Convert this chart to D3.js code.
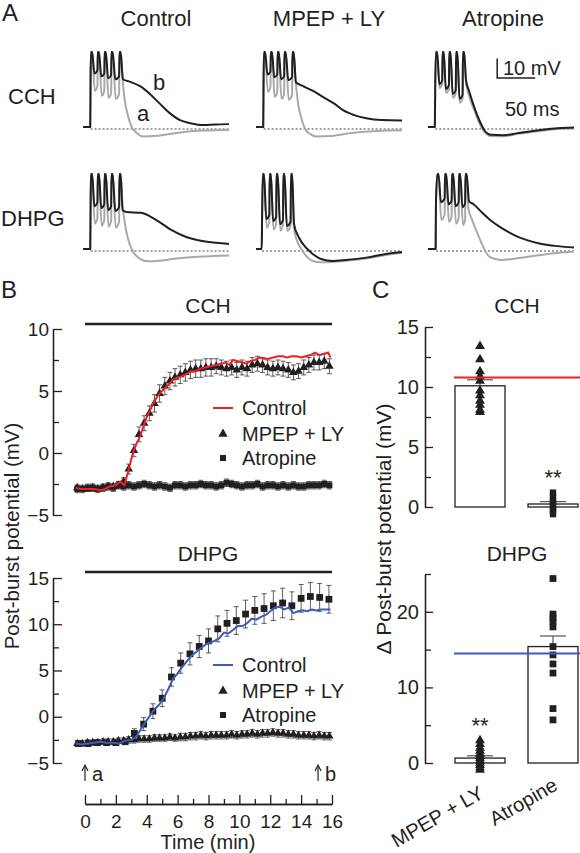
<!DOCTYPE html>
<html><head><meta charset="utf-8">
<script src="https://cdn.jsdelivr.net/npm/d3@7"></script>
<style>
body{margin:0;background:#fff}
svg{display:block}
text{font-family:"Liberation Sans",Arial,sans-serif;fill:#231f20}
</style>
</head><body>
<svg id="fig" width="580" height="853"></svg>
<script>
// ---------------- Panel A: traces [ms, mV relative to baseline] ----------------
const colTitles = ["Control", "MPEP + LY", "Atropine"];
const rowLabels = ["CCH", "DHPG"];
// grey = before drug (a), black = after drug (b)
const cchCtrlGrey = [[0,1],[9.5,1],[10,27],[10.5,39.5],[12,39.5],[15.5,19.5],[19,22],[19.5,39.5],[21,39.5],[24.5,17],[28,19.5],[28.5,39.5],[30,39.5],[33.5,16],[37,18.5],[37.5,39.5],[39,39.5],[43,15.5],[47.5,18],[48,39.5],[49.5,39.5],[52,26],[55,14.5],[59,7],[64,1],[70.6,-2],[79,-3.8],[97,-3.5],[123,-2],[158,-0.8],[192,-0.5]];
const cchCtrlBlack = [[0,1],[9.5,1],[10,27],[10.5,39.5],[12,39.5],[15,28.5],[19,30],[19.5,39.5],[21,39.5],[24,27],[28,28.5],[28.5,39.5],[30,39.5],[33,26],[37,27.5],[37.5,39.5],[39,39.5],[42.5,25.5],[47.5,27],[48,39.5],[49.5,39.5],[52.5,25.5],[62,24.2],[75,22],[88,18],[101,13],[114.5,8],[127.6,4.5],[141,3],[158,2],[174,2.3],[192,2.5]];
const cchMpepGrey = [[0,1],[9.5,1],[10,27],[10.5,39.5],[12,39.5],[15.5,19],[19,21.5],[19.5,39.5],[21,39.5],[24.5,16.5],[28,19],[28.5,39.5],[30,39.5],[33.5,15.5],[37,18],[37.5,39.5],[39,39.5],[43,15],[47.5,17.5],[48,39.5],[49.5,39.5],[52,25.5],[55,14],[59,6.5],[64,0.5],[71,-2.5],[80,-3.8],[97,-3.6],[125,-2.1],[160,-1],[192,-0.7]];
const cchMpepBlack = [[0,1],[9.5,1],[10,27],[10.5,39.5],[12,39.5],[15,28],[19,29.5],[19.5,39.5],[21,39.5],[24,26.5],[28,28],[28.5,39.5],[30,39.5],[33,25.5],[37,27],[37.5,39.5],[39,39.5],[42.5,25],[47.5,26.5],[48,39.5],[49.5,39.5],[52.5,24],[62,22],[75,19.5],[90,16],[103,13],[115,9.5],[130,7],[145,5.5],[165,4.6],[192,4.4]];
const cchAtrGrey = [[0,1],[9,1],[9.5,21],[10.5,39.5],[12,39.5],[15,21],[18.7,23],[19.2,39.5],[20.7,39.5],[23.5,18.5],[27.5,20.5],[28,39.5],[29.5,39.5],[32.5,16],[36.5,18],[37,39.5],[38.5,39.5],[41.5,13.5],[45.5,15.5],[46,39.5],[47.5,39.5],[50,24],[54,17],[61,9.5],[67.5,3],[74,-1.5],[83,-3.6],[100,-3.7],[119,-2.5],[148,-1],[170,0],[192,0.4]];
const cchAtrBlack = [[0,1],[9,1],[9.5,22],[10.5,39.5],[12,39.5],[15,23],[18.7,25],[19.2,39.5],[20.7,39.5],[23.5,20.5],[27.5,22.5],[28,39.5],[29.5,39.5],[32.5,18],[36.5,20],[37,39.5],[38.5,39.5],[41.5,15.5],[45.5,17.5],[46,39.5],[47.5,39.5],[50,25],[54,19.5],[61,11],[67.5,4.5],[74,-0.5],[83,-3],[100,-3.2],[119,-2],[148,-0.5],[170,0.4],[192,0.8]];
const dhpgCtrlGrey = [[0,1],[9.5,1],[10,23],[10.5,39.5],[12,39.5],[15.5,14],[19,17],[19.5,39.5],[21,39.5],[24.5,13],[28,16],[28.5,39.5],[30,39.5],[33.5,12.5],[37,15.5],[37.5,39.5],[39,39.5],[43,12],[47.5,15],[48,39.5],[49.5,39.5],[52,24],[56,12],[61,4],[67,-1],[75,-4],[86,-5.3],[100,-5],[120,-4],[150,-3],[192,-2.3]];
const dhpgCtrlBlack = [[0,1],[9.5,1],[10,23],[10.5,39.5],[12,39.5],[15,23],[19,25],[19.5,39.5],[21,39.5],[24,22],[28,24],[28.5,39.5],[30,39.5],[33,21],[37,23],[37.5,39.5],[39,39.5],[42.5,20.5],[47.5,22.5],[48,39.5],[49.5,39.5],[52,21],[57,20],[76,19.6],[96,16],[116,10.8],[135,7.3],[155,5.3],[175,4.2],[192,3.6]];
const dhpgMpepGrey = [[0,1],[7.5,1],[8,16.5],[9,39.5],[10.5,39.5],[14,12],[17.5,15],[18,39.5],[19.5,39.5],[23,11],[26.5,14],[27,39.5],[28.5,39.5],[32,10.5],[35.5,13.5],[36,39.5],[37.5,39.5],[41,10.3],[45.5,13],[46,39.5],[47.5,39.5],[50,12],[52.6,6.8],[61.4,0],[74.6,-5.1],[85,-5.8],[101,-5.6],[118,-5],[145,-3.8],[171,-2],[192,-1]];
const dhpgMpepBlack = [[0,1],[7.5,1],[8,16.5],[9,39.5],[10.5,39.5],[13.5,16.4],[17.5,18.5],[18,39.5],[19.5,39.5],[22.5,15.4],[26.5,17.5],[27,39.5],[28.5,39.5],[31.5,13.8],[35.5,16],[36,39.5],[37.5,39.5],[40.5,12.8],[45.5,15],[46,39.5],[47.5,39.5],[50,13.8],[56.6,6.8],[65.8,1.7],[74.6,-1.5],[85.5,-4.1],[101,-5.1],[118,-4.6],[145,-3.4],[171,-1.5],[192,-0.5]];
const dhpgAtrGrey = [[0,1],[10,1],[10.5,25],[12.3,39.5],[13.8,39.5],[17.5,15.9],[21.9,19],[22.4,39.5],[23.9,39.5],[27.5,15],[31.1,18],[31.6,39.5],[33.1,39.5],[36.7,14],[40.3,17],[40.8,39.5],[42.3,39.5],[46,13.3],[48.8,16],[49.3,39.5],[50.8,39.5],[53,22],[58,16],[64,10],[71,3.5],[81,-3],[96,-4.6],[120,-3.6],[145,-2.2],[170,-1],[192,-0.3]];
const dhpgAtrBlack = [[0,1],[10,1],[10.5,25],[12.3,39.5],[13.8,39.5],[17,25],[21.9,27],[22.4,39.5],[23.9,39.5],[27,24],[31.1,26],[31.6,39.5],[33.1,39.5],[36.2,23],[40.3,25],[40.8,39.5],[42.3,39.5],[45.4,22.5],[48.8,24.5],[49.3,39.5],[50.8,39.5],[54,25.5],[60,24],[71,19.7],[83,15.5],[96,12],[120,7],[145,4],[170,2.5],[192,1.8]];

// ---------------- Panel B: time courses ----------------
const cchCtrlT = [-0.6,-0.3,0,0.3,0.6,1.0,1.3,1.6,2.0,2.3,2.55,2.8,3.1,3.35,3.56,3.8,4.0,4.2,4.42,4.7,5.07,5.4,5.7,6.0,6.3,6.6,6.9,7.2,7.45,7.8,8.1,8.5,8.8,9.1,9.35,9.6,9.9,10.2,10.45,10.7,11.0,11.34,11.6,11.9,12.2,12.5,12.8,13.1,13.4,13.7,14.0,14.3,14.6,14.9,15.2,15.5,15.75,15.9];
const cchCtrlV = [-2.8,-2.9,-2.9,-2.9,-2.9,-3.0,-2.9,-2.7,-2.6,-2.3,-2.6,-1.5,0,0.8,1.3,2.2,2.9,3.4,4.0,4.6,5.1,5.5,5.9,6.1,6.2,6.4,6.6,6.6,6.8,6.9,7.0,7.1,7.2,7.3,7.1,7.5,7.4,7.3,7.2,7.4,7.5,7.7,7.6,7.6,7.7,7.8,7.8,7.7,7.8,7.8,7.7,7.8,7.9,8.1,7.9,8.0,8.1,7.7];
const symT = [-0.5,-0.17,0.17,0.5,0.83,1.17,1.5,1.83,2.17,2.5,2.83,3.17,3.5,3.83,4.17,4.5,4.83,5.17,5.5,5.83,6.17,6.5,6.83,7.17,7.5,7.83,8.17,8.5,8.83,9.17,9.5,9.83,10.17,10.5,10.83,11.17,11.5,11.83,12.17,12.5,12.83,13.17,13.5,13.83,14.17,14.5,14.83,15.17,15.5,15.83];
const cchMpepV = [-2.8,-2.9,-2.9,-2.8,-2.9,-2.8,-2.7,-2.7,-2.6,-2.3,-1.3,0.2,1.5,2.4,3.2,4.0,4.8,5.4,5.8,6.1,6.3,6.5,6.7,6.8,6.8,6.9,6.9,7.0,6.9,6.8,6.9,6.7,6.9,6.8,7.1,7.2,7.1,6.9,6.8,6.9,6.8,6.7,6.5,6.6,6.9,7.1,7.3,7.3,7.4,7.0];
const cchMpepE = [0.2,0.2,0.2,0.2,0.2,0.2,0.2,0.2,0.25,0.3,0.4,0.5,0.6,0.6,0.6,0.7,0.7,0.7,0.7,0.7,0.7,0.7,0.7,0.7,0.7,0.7,0.7,0.6,0.6,0.6,0.6,0.6,0.6,0.6,0.6,0.6,0.6,0.6,0.6,0.6,0.6,0.6,0.6,0.6,0.6,0.6,0.6,0.6,0.6,0.6];
const cchAtrV = [-2.9,-2.9,-2.8,-2.8,-2.9,-2.8,-2.7,-2.8,-2.6,-2.7,-2.6,-2.7,-2.6,-2.5,-2.6,-2.7,-2.6,-2.7,-2.8,-2.6,-2.6,-2.7,-2.6,-2.6,-2.5,-2.6,-2.6,-2.7,-2.6,-2.4,-2.5,-2.6,-2.7,-2.6,-2.6,-2.5,-2.7,-2.6,-2.6,-2.7,-2.6,-2.7,-2.6,-2.7,-2.7,-2.6,-2.6,-2.6,-2.5,-2.6];
const cchAtrE = [0.3,0.3,0.3,0.3,0.3,0.3,0.3,0.3,0.3,0.3,0.3,0.3,0.3,0.3,0.3,0.3,0.3,0.3,0.3,0.3,0.3,0.3,0.3,0.3,0.3,0.3,0.3,0.3,0.3,0.3,0.3,0.3,0.3,0.3,0.3,0.3,0.3,0.3,0.3,0.3,0.3,0.3,0.3,0.3,0.3,0.3,0.3,0.3,0.3,0.3];
const dhpgCtrlT = [-0.6,-0.2,0.2,0.6,1.0,1.4,1.8,2.2,2.6,3.0,3.3,3.6,3.9,4.2,4.5,4.8,5.1,5.4,5.7,6.0,6.3,6.6,6.9,7.2,7.5,7.8,8.1,8.4,8.7,9.0,9.3,9.6,9.9,10.2,10.5,10.8,11.1,11.4,11.7,12.0,12.3,12.6,12.9,13.2,13.5,13.8,14.1,14.4,14.7,15.0,15.3,15.6,15.9];
const dhpgCtrlV = [-2.9,-3.0,-2.9,-2.8,-2.7,-2.8,-2.8,-2.9,-2.6,-2.5,-2.2,-1.4,-0.6,0.1,0.8,1.3,2.0,3.0,4.1,4.7,5.4,6.0,6.6,7.0,7.4,7.8,8.0,8.2,8.5,9.1,9.0,9.4,9.8,9.8,10.1,10.6,10.5,10.8,11.0,11.4,11.8,11.9,11.6,11.8,11.2,11.4,11.5,11.4,11.6,11.5,11.6,11.6,11.6];
const dhpgMpepV = [-2.9,-2.9,-2.8,-2.8,-2.8,-2.7,-2.7,-2.7,-2.6,-2.6,-2.5,-2.5,-2.4,-2.4,-2.4,-2.3,-2.3,-2.3,-2.2,-2.3,-2.2,-2.2,-2.1,-2.1,-2.0,-2.1,-2.0,-2.0,-2.0,-2.0,-1.9,-2.0,-1.9,-1.9,-1.8,-1.9,-1.8,-1.8,-1.7,-1.8,-1.8,-1.9,-1.9,-2.0,-2.0,-2.0,-2.1,-2.0,-2.1,-2.1];
const dhpgMpepE = [0.3,0.3,0.3,0.3,0.3,0.3,0.3,0.3,0.3,0.3,0.35,0.35,0.35,0.35,0.35,0.35,0.35,0.35,0.35,0.35,0.4,0.4,0.4,0.4,0.4,0.4,0.4,0.4,0.4,0.4,0.4,0.4,0.4,0.4,0.4,0.4,0.4,0.4,0.4,0.4,0.4,0.4,0.4,0.4,0.4,0.4,0.4,0.4,0.4,0.4];
const dhpgAtrT = [-0.4,0.2,0.8,1.4,2.0,2.6,3.2,3.8,4.4,5.0,5.6,6.2,6.8,7.4,8.0,8.6,9.2,9.8,10.4,11.0,11.6,12.2,12.8,13.4,14.0,14.6,15.2,15.8];
const dhpgAtrV = [-2.9,-2.9,-2.8,-2.8,-2.8,-2.7,-1.8,-0.8,0.6,2.0,4.3,5.8,6.8,7.6,8.2,9.5,10.1,10.4,11.1,11.5,11.7,12.0,12.3,12.0,12.8,13.0,12.9,12.7];
const dhpgAtrE = [0.2,0.2,0.2,0.2,0.2,0.3,0.5,0.7,0.8,0.9,1.0,1.1,1.2,1.2,1.3,1.4,1.4,1.5,1.5,1.5,1.6,1.6,1.6,1.5,1.5,1.5,1.5,1.5];
const bTicksTop = [-5, 0, 5, 10];
const bTicksBot = [-5, 0, 5, 10, 15];
const timeTicks = [0, 2, 4, 6, 8, 10, 12, 14, 16];

// ---------------- Panel C: bar chart ----------------
const cGroups = ["MPEP + LY", "Atropine"];
const cchMeans = [10.1, 0.25];
const cchSems = [0.5, 0.2];
const dhpgMeans = [0.65, 15.4];
const dhpgSems = [0.3, 1.4];
const cchMpepPts = [13.4, 12.3, 11.3, 10.9, 10.5, 9.7, 9.3, 8.85, 8.5, 8.1, 7.9];
const cchAtrPts = [1.2, 0.9, 0.6, 0.4, 0.2, 0.0, -0.2, -0.4, -0.6];
const dhpgMpepPts = [3.0, 2.5, 2.0, 1.6, 1.2, 0.9, 0.6, 0.3, 0.0, -0.3, -0.6, -0.9];
const dhpgAtrPts = [24.4, 19.7, 19.2, 18.7, 18.0, 15.4, 14.3, 13.1, 11.9, 7.2, 5.7];
const cchControlMean = 10.8;
const dhpgControlMean = 14.5;

// =================================================================
const INK = "#231f20", GREY = "#a7a9ac", RED = "#ec2227", BLUE = "#3d5cbd";
const FONT = '"Liberation Sans",Arial,sans-serif';
const svg = d3.select("#fig");

function txt(g, x, y, s, size, anchor) {
  return g.append("text").attr("x", x).attr("y", y).attr("font-size", size)
    .attr("text-anchor", anchor || "start").text(s);
}

// ---------- Panel A ----------
const gA = svg.append("g");
txt(gA, 2, 21, "A", 24);
const colStart = [83, 256, 428];
const rowBase = [129, 251];
const titleX = [156, 329, 503];
colTitles.forEach((t, i) => txt(gA, titleX[i], 26, t, 22, "middle"));
txt(gA, 8, 104, rowLabels[0], 22);
txt(gA, 1, 226, rowLabels[1], 22);

function trScales(c, r) {
  return {
    x: d3.scaleLinear().domain([0, 192]).range([colStart[c], colStart[c] + 146]),
    y: d3.scaleLinear().domain([0, 10]).range([rowBase[r], rowBase[r] - 19.5])
  };
}
const traceSets = [
  [0, 0, cchCtrlGrey, cchCtrlBlack, 10], [0, 1, cchMpepGrey, cchMpepBlack, 10], [0, 2, cchAtrGrey, cchAtrBlack, 9.5],
  [1, 0, dhpgCtrlGrey, dhpgCtrlBlack, 10], [1, 1, dhpgMpepGrey, dhpgMpepBlack, 8], [1, 2, dhpgAtrGrey, dhpgAtrBlack, 10.5]
];
traceSets.forEach(([r, c, grey, black, t0]) => {
  const s = trScales(c, r);
  const line = d3.line().x(d => s.x(d[0])).y(d => s.y(d[1])).curve(d3.curveMonotoneX);
  gA.append("line").attr("x1", s.x(t0)).attr("x2", s.x(192)).attr("y1", s.y(0)).attr("y2", s.y(0))
    .attr("stroke", "#444").attr("stroke-width", 1).attr("stroke-dasharray", "2,2");
  gA.append("path").attr("d", line(grey)).attr("fill", "none").attr("stroke", GREY).attr("stroke-width", 2)
    .attr("stroke-linejoin", "round");
  gA.append("path").attr("d", line(black)).attr("fill", "none").attr("stroke", INK).attr("stroke-width", 2)
    .attr("stroke-linejoin", "round");
});
txt(gA, 153, 90, "b", 22);
txt(gA, 137, 121, "a", 22);
// scale bar (10 mV, 50 ms)
{
  const s = trScales(2, 0);
  const t0 = 91, v0 = 26.2;
  gA.append("path").attr("d", `M${s.x(t0)},${s.y(v0 + 10)}V${s.y(v0)}H${s.x(t0 + 50)}`)
    .attr("fill", "none").attr("stroke", INK).attr("stroke-width", 1.5);
  txt(gA, 503, 75, "10 mV", 20);
  txt(gA, 505, 116, "50 ms", 20);
}

// ---------- Panel B ----------
const gB = svg.append("g");
txt(gB, 1, 298, "B", 24);
const xB = d3.scaleLinear().domain([0, 16]).range([85, 332]);
const yT = d3.scaleLinear().domain([-5, 10]).range([515, 329]);
const yD = d3.scaleLinear().domain([-5, 15]).range([763, 578]);

function styleAxis(g, size) {
  g.attr("font-family", FONT).attr("font-size", size);
  g.selectAll("path,line").attr("stroke", INK).attr("stroke-width", 1.3);
  g.selectAll("text").attr("fill", INK);
}
function yAxisB(y, ticks) {
  const minor = [];
  for (let i = 0; i < ticks.length - 1; i++) minor.push((ticks[i] + ticks[i + 1]) / 2);
  const g1 = gB.append("g").attr("transform", "translate(53,0)")
    .call(d3.axisLeft(y).tickValues(ticks).tickSize(-9).tickSizeOuter(0).tickPadding(4).tickFormat(d3.format("d")));
  styleAxis(g1, 19);
  const g2 = gB.append("g").attr("transform", "translate(53,0)")
    .call(d3.axisLeft(y).tickValues(minor).tickSize(-6).tickSizeOuter(0).tickFormat(""));
  styleAxis(g2, 19);
}
yAxisB(yT, bTicksTop);
yAxisB(yD, bTicksBot);

// drug bars and titles
[[324, 313, "CCH"], [572, 561, "DHPG"]].forEach(([yy, ty, s]) => {
  gB.append("line").attr("x1", xB(0)).attr("x2", xB(16)).attr("y1", yy).attr("y2", yy)
    .attr("stroke", INK).attr("stroke-width", 2.5);
  txt(gB, 208, ty, s, 21, "middle");
});

function errBars(g, T, V, E, y) {
  const eg = g.append("g").attr("stroke", "#333").attr("stroke-width", 0.8);
  T.forEach((t, i) => {
    const x = xB(t), a = y(V[i] - E[i]), b = y(V[i] + E[i]);
    eg.append("line").attr("x1", x).attr("x2", x).attr("y1", a).attr("y2", b);
    eg.append("line").attr("x1", x - 2.5).attr("x2", x + 2.5).attr("y1", a).attr("y2", a);
    eg.append("line").attr("x1", x - 2.5).attr("x2", x + 2.5).attr("y1", b).attr("y2", b);
  });
}
function symbols(g, T, V, y, type, size) {
  g.append("g").selectAll("path").data(T).join("path")
    .attr("transform", (t, i) => `translate(${xB(t)},${y(V[i])})`)
    .attr("d", d3.symbol(type, size)).attr("fill", INK);
}
// CCH
errBars(gB, symT, cchAtrV, cchAtrE, yT);
symbols(gB, symT, cchAtrV, yT, d3.symbolSquare, 36);
errBars(gB, symT, cchMpepV, cchMpepE, yT);
symbols(gB, symT, cchMpepV, yT, d3.symbolTriangle, 32);
gB.append("path").attr("d", d3.line().x((t) => xB(t)).y((t, i) => yT(cchCtrlV[i]))(cchCtrlT))
  .attr("fill", "none").attr("stroke", RED).attr("stroke-width", 2);
// DHPG
errBars(gB, symT, dhpgMpepV, dhpgMpepE, yD);
symbols(gB, symT, dhpgMpepV, yD, d3.symbolTriangle, 30);
errBars(gB, dhpgAtrT, dhpgAtrV, dhpgAtrE, yD);
symbols(gB, dhpgAtrT, dhpgAtrV, yD, d3.symbolSquare, 46);
gB.append("path").attr("d", d3.line().x((t) => xB(t)).y((t, i) => yD(dhpgCtrlV[i]))(dhpgCtrlT))
  .attr("fill", "none").attr("stroke", BLUE).attr("stroke-width", 2);

// legends
function legend(y0, color) {
  gB.append("line").attr("x1", 213).attr("x2", 233).attr("y1", y0).attr("y2", y0)
    .attr("stroke", color).attr("stroke-width", 2);
  txt(gB, 242, y0 + 7, "Control", 20);
  gB.append("path").attr("transform", `translate(223,${y0 + 26})`).attr("d", d3.symbol(d3.symbolTriangle, 38)).attr("fill", INK);
  txt(gB, 242, y0 + 33, "MPEP + LY", 20);
  gB.append("path").attr("transform", `translate(223,${y0 + 50})`).attr("d", d3.symbol(d3.symbolSquare, 36)).attr("fill", INK);
  txt(gB, 242, y0 + 57, "Atropine", 20);
}
legend(408, RED);
legend(665, BLUE);

// time axis
{
  const g1 = gB.append("g").attr("transform", "translate(0,804)")
    .call(d3.axisBottom(xB).tickValues(timeTicks).tickSize(-9).tickSizeOuter(0).tickPadding(11).tickFormat(d3.format("d")));
  styleAxis(g1, 19);
  const g2 = gB.append("g").attr("transform", "translate(0,804)")
    .call(d3.axisBottom(xB).tickValues(timeTicks.slice(0, -1).map(t => t + 1)).tickSize(-5).tickSizeOuter(0).tickFormat(""));
  styleAxis(g2, 19);
  txt(gB, 208, 849, "Time (min)", 20, "middle");
}
// arrows a, b
[[0, "a"], [15, "b"]].forEach(([t, s]) => {
  const x = xB(t) + (s === "b" ? 1.5 : 0);
  gB.append("line").attr("x1", x).attr("x2", x).attr("y1", 767).attr("y2", 781).attr("stroke", INK).attr("stroke-width", 1.2);
  gB.append("path").attr("d", `M${x - 3},${771}L${x},${765}L${x + 3},${771}`).attr("fill", "none").attr("stroke", INK).attr("stroke-width", 1.2);
  txt(gB, x + 7, 781, s, 20);
});
gB.append("text").attr("transform", "translate(19,536) rotate(-90)").attr("font-size", 20.5)
  .attr("text-anchor", "middle").text("Post-burst potential (mV)");

// ---------- Panel C ----------
const gC = svg.append("g");
txt(gC, 372, 298, "C", 24);
const xC = d3.scalePoint().domain(cGroups).range([480, 553]);
const yCT = d3.scaleLinear().domain([0, 15]).range([507, 327]);
const yCD = d3.scaleLinear().domain([0, 25]).range([763, 574]);
function yAxisC(y, major, minor) {
  const g1 = gC.append("g").attr("transform", "translate(425,0)")
    .call(d3.axisLeft(y).tickValues(major).tickSize(-8).tickSizeOuter(0).tickPadding(6).tickFormat(d3.format("d")));
  styleAxis(g1, 20);
  const g2 = gC.append("g").attr("transform", "translate(425,0)")
    .call(d3.axisLeft(y).tickValues(minor).tickSize(-6).tickSizeOuter(0).tickFormat(""));
  styleAxis(g2, 20);
}
yAxisC(yCT, [0, 5, 10, 15], [2.5, 7.5, 12.5]);
yAxisC(yCD, [0, 10, 20], [5, 15, 25]);
txt(gC, 517, 313, "CCH", 21, "middle");
txt(gC, 517, 561, "DHPG", 21, "middle");

function barPanel(y, means, sems, ptsList, types, sizes, refVal, refColor, starIdx, starY) {
  const bw = 50;
  cGroups.forEach((gname, i) => {
    const cx = xC(gname);
    gC.append("line").attr("x1", cx).attr("x2", cx).attr("y1", y(means[i])).attr("y2", y(means[i] + sems[i]))
      .attr("stroke", "#555").attr("stroke-width", 1.2);
    gC.append("line").attr("x1", cx - 13).attr("x2", cx + 13).attr("y1", y(means[i] + sems[i])).attr("y2", y(means[i] + sems[i]))
      .attr("stroke", "#555").attr("stroke-width", 1.2);
    gC.append("rect").attr("x", cx - bw / 2).attr("y", y(means[i])).attr("width", bw)
      .attr("height", y(0) - y(means[i])).attr("fill", "none").attr("stroke", INK).attr("stroke-width", 1.3);
    gC.append("g").selectAll("path").data(ptsList[i]).join("path")
      .attr("transform", d => `translate(${cx},${y(d)})`)
      .attr("d", d3.symbol(types[i], sizes[i])).attr("fill", INK);
  });
  gC.append("line").attr("x1", 454).attr("x2", 580).attr("y1", y(refVal)).attr("y2", y(refVal))
    .attr("stroke", refColor).attr("stroke-width", 2);
  txt(gC, xC(cGroups[starIdx]), starY, "**", 22, "middle").attr("fill", "#444");
}
barPanel(yCT, cchMeans, cchSems, [cchMpepPts, cchAtrPts], [d3.symbolTriangle, d3.symbolSquare], [42, 40], cchControlMean, RED, 1, 485);
barPanel(yCD, dhpgMeans, dhpgSems, [dhpgMpepPts, dhpgAtrPts], [d3.symbolTriangle, d3.symbolSquare], [42, 46], dhpgControlMean, BLUE, 0, 733);

gC.append("text").attr("transform", "translate(391,529) rotate(-90)").attr("font-size", 21)
  .attr("text-anchor", "middle").text("Δ Post-burst potential (mV)");
gC.append("text").attr("transform", "translate(485,797) rotate(-30)").attr("font-size", 20)
  .attr("text-anchor", "end").text(cGroups[0]);
gC.append("text").attr("transform", "translate(559,789) rotate(-30)").attr("font-size", 20)
  .attr("text-anchor", "end").text(cGroups[1]);
</script>
</body></html>
